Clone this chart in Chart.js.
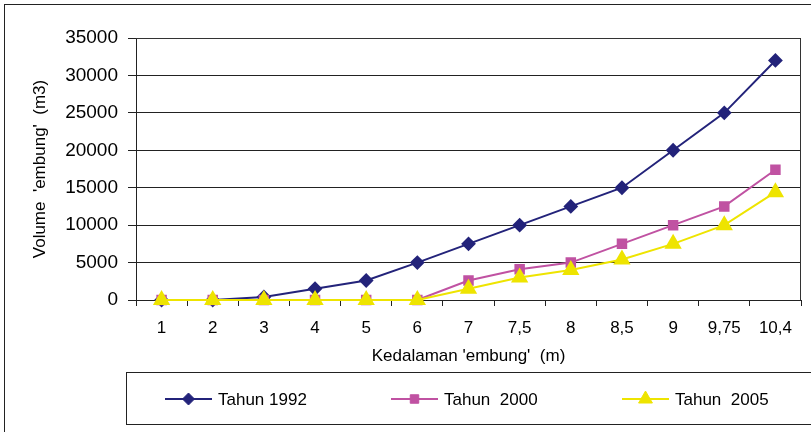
<!DOCTYPE html>
<html>
<head>
<meta charset="utf-8">
<script src="https://cdn.jsdelivr.net/npm/chart.js@4.4.1/dist/chart.umd.min.js"></script>
<style>
  html, body { margin: 0; padding: 0; background: #fff; }
  #wrap { width: 811px; height: 432px; position: relative; }
</style>
</head>
<body>
<div id="wrap"><canvas id="c" width="811" height="432"></canvas></div>
<script>
// Depth of the reservoir (m) and stored volume (m3) per survey year
const depthLabels = ['1', '2', '3', '4', '5', '6', '7', '7,5', '8', '8,5', '9', '9,75', '10,4'];
const volume1992 = [0, 0, 400, 1500, 2600, 5000, 7500, 10000, 12500, 15000, 20000, 25000, 32000];
const volume2000 = [0, 0, 0, 0, 0, 0, 2600, 4100, 5000, 7500, 10000, 12500, 17400];
const volume2005 = [0, 0, 0, 0, 0, 0, 1500, 3000, 4000, 5400, 7500, 10000, 14400];
const seriesNames = ['Tahun 1992', 'Tahun  2000', 'Tahun  2005'];
const yTicks = [0, 5000, 10000, 15000, 20000, 25000, 30000, 35000];

const FONT = 'Liberation Sans, Arial, sans-serif';
const colors = ['#23237a', '#c052a2', '#eee400'];
const markers = ['rectRot', 'rect', 'triangle'];
const radii = [6, 6, 8];

// Outer frame, plot box and the boxed legend below the axis title
const framePlugin = {
  id: 'frame',
  afterDraw(chart) {
    const ctx = chart.ctx;
    const a = chart.chartArea;
    ctx.save();
    ctx.strokeStyle = '#222';
    ctx.lineWidth = 1;
    ctx.strokeRect(4.5, 4.5, 820, 440);
    ctx.strokeStyle = '#333';
    ctx.beginPath();
    ctx.moveTo(a.left, a.top + 0.5);
    ctx.lineTo(a.right - 0.5, a.top + 0.5);
    ctx.lineTo(a.right - 0.5, a.bottom);
    ctx.stroke();

    // legend
    ctx.strokeStyle = '#222';
    ctx.lineWidth = 1;
    ctx.strokeRect(126.5, 372.5, 700, 52);
    const starts = [165, 391, 622];
    const cy = 399;
    ctx.font = '17px ' + FONT;
    ctx.textBaseline = 'middle';
    ctx.textAlign = 'left';
    chart.data.datasets.forEach((ds, i) => {
      const x0 = starts[i];
      ctx.strokeStyle = ds.borderColor;
      ctx.fillStyle = ds.borderColor;
      ctx.lineWidth = 2;
      ctx.beginPath();
      ctx.moveTo(x0, cy);
      ctx.lineTo(x0 + 47, cy);
      ctx.stroke();
      ctx.lineWidth = 1;
      Chart.helpers.drawPoint(ctx, {
        pointStyle: ds.pointStyle,
        radius: ds.pointRadius,
        borderWidth: 1,
        rotation: 0
      }, x0 + 23.5, cy);
      ctx.fillStyle = '#000';
      ctx.fillText(ds.label, x0 + 53, cy + 1);
    });
    ctx.restore();
  }
};

const datasets = [volume1992, volume2000, volume2005].map((vals, i) => ({
  label: seriesNames[i],
  data: vals,
  order: 3 - i,
  clip: false,
  borderColor: colors[i],
  backgroundColor: colors[i],
  pointBackgroundColor: colors[i],
  pointBorderColor: colors[i],
  pointStyle: markers[i],
  pointRadius: radii[i],
  pointHoverRadius: radii[i],
  borderWidth: 2,
  tension: 0,
  fill: false
}));

new Chart(document.getElementById('c'), {
  type: 'line',
  data: { labels: depthLabels, datasets: datasets },
  options: {
    responsive: false,
    animation: false,
    devicePixelRatio: 1,
    layout: { padding: { left: 22, top: 38, right: 6, bottom: 62 } },
    plugins: {
      legend: { display: false },
      tooltip: { enabled: false }
    },
    scales: {
      x: {
        offset: true,
        grid: {
          offset: true,
          drawOnChartArea: false,
          drawTicks: true,
          tickLength: 6,
          color: '#222',
          lineWidth: 1
        },
        border: { display: true, color: '#222', width: 1 },
        ticks: {
          color: '#000',
          font: { family: FONT, size: 17 },
          padding: 12,
          maxRotation: 0,
          autoSkip: false
        },
        title: {
          display: true,
          text: "Kedalaman 'embung'  (m)",
          color: '#000',
          font: { family: FONT, size: 17 },
          padding: { top: 0, bottom: 3 }
        },
        afterFit(scale) { scale.height = 70; }
      },
      y: {
        min: 0,
        max: 35000,
        afterBuildTicks(scale) { scale.ticks = yTicks.map(v => ({ value: v })); },
        grid: {
          color: '#222',
          lineWidth: 1,
          tickLength: 8,
          drawTicks: true
        },
        border: { display: true, color: '#222', width: 1 },
        ticks: {
          color: '#000',
          font: { family: FONT, size: 19 },
          padding: 10,
          callback: (v) => String(v)
        },
        title: {
          display: true,
          text: "Volume  'embung'  (m3)",
          color: '#000',
          font: { family: FONT, size: 17 },
          padding: { top: 8, bottom: 0 }
        },
        afterFit(scale) { scale.width = 114; }
      }
    }
  },
  plugins: [framePlugin]
});
</script>
</body>
</html>
